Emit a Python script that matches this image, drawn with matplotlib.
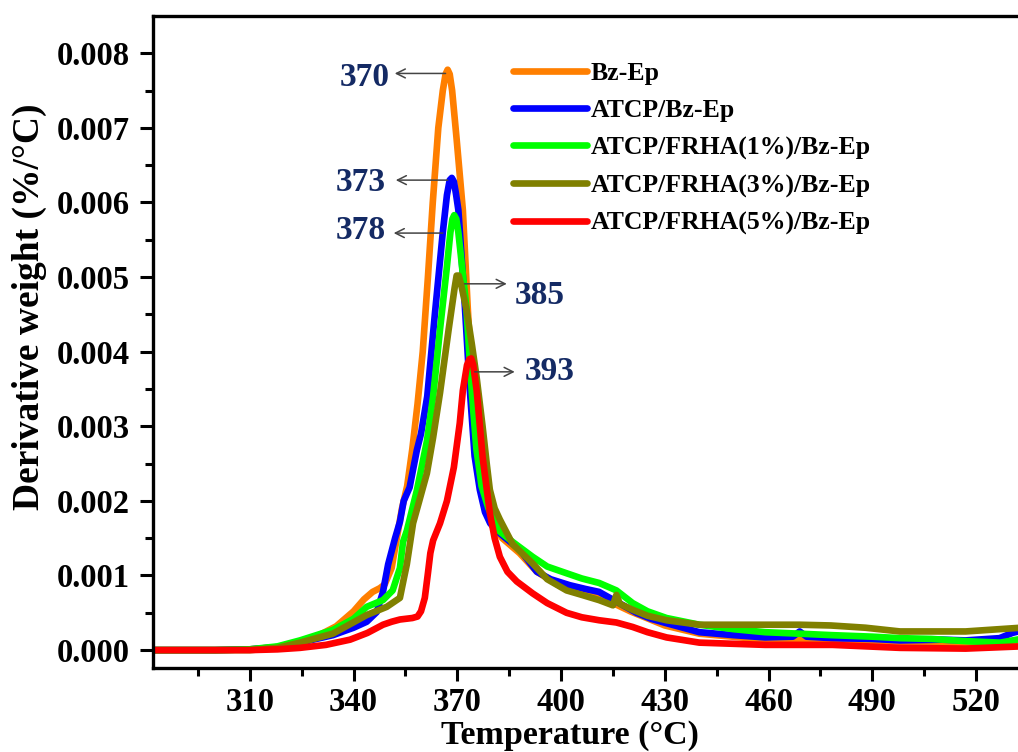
import numpy as np
import matplotlib
matplotlib.use("Agg")
import matplotlib.pyplot as plt
from matplotlib.ticker import FixedLocator, FormatStrFormatter

plt.rcParams['font.family'] = ['Liberation Serif', 'DejaVu Serif']
plt.rcParams['font.weight'] = 'bold'

labels = ["Bz-Ep", "ATCP/Bz-Ep", "ATCP/FRHA(1%)/Bz-Ep",
          "ATCP/FRHA(3%)/Bz-Ep", "ATCP/FRHA(5%)/Bz-Ep"]
colors = ["#ff7f00", "#0000ff", "#00ff00", "#808000", "#ff0000"]

# Temperatures (°C) and derivative weight (units of 1e-3 %/°C)
t_bz = [282, 300, 310, 318, 325, 330, 335, 340, 343, 345.5, 347.6, 349, 351, 352.5, 354,
        355.5, 357, 358.5, 360, 361.5, 362.9, 364.5, 365.8, 366.6, 367.2, 367.8, 368.5,
        369.8, 371.6, 373, 374.5, 376, 378, 380, 383, 388, 393, 400, 405, 411, 420, 430,
        440, 459, 469, 478, 498, 517, 533]
d_bz = [0, 0, 0.01, 0.04, 0.12, 0.2, 0.32, 0.52, 0.68, 0.78, 0.83, 0.88, 1.1, 1.5, 1.9,
        2.2, 2.7, 3.3, 4.0, 5.0, 6.0, 7.0, 7.5, 7.72, 7.78, 7.72, 7.5,
        6.85, 5.9, 4.6, 3.4, 2.5, 1.95, 1.7, 1.5, 1.3, 1.05, 0.85, 0.78, 0.72, 0.52, 0.33,
        0.22, 0.14, 0.15, 0.12, 0.1, 0.08, 0.1]

t_atcp = [282, 300, 310, 318, 324.5, 334, 340, 343.8, 346.7, 348.5, 350, 352, 353.4, 354.5,
          356.2, 358.3, 359.5, 361.3, 363.5, 365.8, 367.0, 367.8, 368.4, 369.0, 369.6,
          370.3, 372, 373.6, 375, 376.5, 378, 379.5, 381.4, 384, 388, 393, 397, 402.5, 407,
          411, 416, 421.8, 426, 430.5, 440, 450, 459, 467, 469, 471, 478.5, 490, 498, 510,
          517, 526.8, 530.5, 533]
d_atcp = [0, 0, 0.01, 0.04, 0.1, 0.2, 0.3, 0.38, 0.51, 0.78, 1.15, 1.5, 1.72, 2.0,
          2.18, 2.68, 2.9, 3.4, 4.5, 5.6, 6.1, 6.3, 6.33, 6.28, 6.12,
          5.9, 4.75, 3.5, 2.6, 2.15, 1.85, 1.7, 1.6, 1.5, 1.35, 1.05, 0.95, 0.87, 0.82,
          0.78, 0.65, 0.5, 0.42, 0.36, 0.24, 0.2, 0.17, 0.18, 0.25, 0.18, 0.16, 0.15, 0.13,
          0.14, 0.13, 0.16, 0.23, 0.26]

t_f1 = [282, 300, 310, 318, 324.5, 334, 340, 343.8, 348.5, 351.3, 353.4, 354.3, 355.4,
        358.3, 361.2, 363, 365, 366.9, 368.0, 368.6, 369.1, 369.7, 370.3, 371, 372.6,
        374.2, 375.5, 377, 379, 382, 386, 391.8, 396, 401.6, 406, 411, 416, 420.7, 425,
        430.5, 440, 450, 459, 469, 478.5, 490, 498, 507, 517, 527, 533]
d_f1 = [0, 0, 0.01, 0.05, 0.13, 0.27, 0.42, 0.58, 0.67, 0.8, 1.1, 1.45, 1.6,
        2.14, 2.8, 3.4, 4.3, 5.1, 5.6, 5.78, 5.83, 5.78, 5.6, 5.3, 4.6,
        3.45, 2.7, 2.2, 1.9, 1.6, 1.45, 1.25, 1.12, 1.03, 0.96, 0.9, 0.8, 0.63, 0.52,
        0.43, 0.34, 0.28, 0.24, 0.22, 0.2, 0.18, 0.16, 0.15, 0.12, 0.1, 0.15]

t_f3 = [282, 300, 310, 318, 324.5, 334, 343.8, 349.6, 353.4, 354.5, 355.4, 357.2, 359,
        361.2, 363, 365, 367.5, 369.2, 369.8, 370.4, 371.2, 372.7, 374.2, 375.6, 377.3,
        378.5, 379.4, 380.8, 382.3, 386, 391.8, 396, 401.6, 406, 411, 415, 416, 417,
        420.7, 425, 430.5, 440, 450, 459, 469, 478, 488, 498, 517, 533]
d_f3 = [0, 0, 0, 0.03, 0.1, 0.22, 0.47, 0.58, 0.7, 0.95, 1.15, 1.7, 2.0,
        2.37, 2.85, 3.45, 4.3, 4.85, 5.02, 5.02, 4.88, 4.55, 4.1, 3.65, 3.0,
        2.5, 2.15, 1.9, 1.75, 1.42, 1.16, 0.95, 0.8, 0.74, 0.67, 0.6, 0.74, 0.62,
        0.54, 0.46, 0.4, 0.34, 0.34, 0.34, 0.34, 0.33, 0.3, 0.25, 0.25, 0.3]

t_f5 = [282, 300, 310, 318, 324.5, 332, 339, 344, 348.5, 351, 353.4, 357, 358.5, 359.5,
        360.6, 361.5, 362.2, 363, 365, 367, 369, 370.7, 371.6, 372.8, 373.5, 374, 374.6,
        375.6, 377.3, 379.4, 380.8, 382.3, 384.5, 387.2, 391.8, 396, 401.6, 406, 411, 416,
        420.7, 425, 430.5, 440, 459, 478.5, 498, 517, 533]
d_f5 = [0, 0, 0, 0.01, 0.03, 0.07, 0.14, 0.23, 0.34, 0.38, 0.41, 0.43, 0.45, 0.52,
        0.7, 1.03, 1.3, 1.47, 1.7, 2.0, 2.45, 3.04, 3.48, 3.82, 3.9, 3.91, 3.82,
        3.48, 2.59, 1.84, 1.5, 1.25, 1.05, 0.92, 0.76, 0.63, 0.5, 0.44, 0.4, 0.37,
        0.31, 0.24, 0.17, 0.1, 0.07, 0.07, 0.03, 0.02, 0.05]

series_t = [t_bz, t_atcp, t_f1, t_f3, t_f5]
series_d = [d_bz, d_atcp, d_f1, d_f3, d_f5]

# peak annotations: text, arrow tail (x, y), arrow head x, text position
peak_texts = ["370", "373", "378", "385", "393"]
arrow_tail = [(366.6, 0.00773), (367.2, 0.00630), (365.8, 0.00559), (372.1, 0.00491), (375.0, 0.00373)]
arrow_head_x = [351.9, 352.2, 351.6, 384.3, 386.6]
text_pos = [(343.2, 0.00768), (342.1, 0.00627), (342.1, 0.00563), (393.8, 0.00476), (396.7, 0.00373)]

xmajor = [310, 340, 370, 400, 430, 460, 490, 520]
xminor = [295, 325, 355, 385, 415, 445, 475, 505, 535]
ymajor = [0.000, 0.001, 0.002, 0.003, 0.004, 0.005, 0.006, 0.007, 0.008]
yminor = [0.0005, 0.0015, 0.0025, 0.0035, 0.0045, 0.0055, 0.0065, 0.0075]

W, H = 1018, 752
fig = plt.figure(figsize=(W / 100, H / 100), dpi=100)
ax = fig.add_axes([153 / W, 84 / H, (1021 - 153) / W, 652 / H])

for t, d, c, lab in zip(series_t, series_d, colors, labels):
    ax.plot(t, np.array(d) * 1e-3, color=c, lw=4.8, label=lab,
            solid_capstyle='round', solid_joinstyle='round')

ax.set_xlim(282, 533)
ax.set_ylim(-0.00024, 0.0085)

for s in ['left', 'bottom', 'top']:
    ax.spines[s].set_linewidth(2.4)
ax.spines['right'].set_visible(False)

ax.xaxis.set_major_locator(FixedLocator(xmajor))
ax.xaxis.set_minor_locator(FixedLocator(xminor))
ax.yaxis.set_major_locator(FixedLocator(ymajor))
ax.yaxis.set_minor_locator(FixedLocator(yminor))
ax.yaxis.set_major_formatter(FormatStrFormatter('%.3f'))
ax.tick_params(which='major', direction='out', length=9.5, width=2.2, labelsize=23.5, pad=7)
ax.tick_params(axis='x', which='major', pad=4)
ax.tick_params(which='minor', direction='out', length=5.5, width=2.2)
ax.tick_params(top=False, right=False, which='both')
for lbl in ax.get_xticklabels() + ax.get_yticklabels():
    lbl.set_fontweight('bold')

fig.text(570 / W, 1 - 744 / H, "Temperature (°C)", ha='center', va='baseline',
         fontsize=24.5, fontweight='bold')
fig.text(29 / W, 1 - 307 / H, "Derivative weight (%/°C)", ha='center', va='center',
         rotation=90, fontsize=27, fontweight='bold')

navy = '#142a64'
for txt, (tx, ty), hx, (px, py) in zip(peak_texts, arrow_tail, arrow_head_x, text_pos):
    ax.annotate("", xy=(hx, ty), xytext=(tx, ty),
                arrowprops=dict(arrowstyle='->', color='#444444', lw=1.1,
                                shrinkA=0, shrinkB=0, mutation_scale=16))
    ax.text(px, py, txt, ha='center', va='center', fontsize=24,
            fontweight='bold', color=navy)

leg = ax.legend(loc='upper left', bbox_to_anchor=(0.4147, 0.930), frameon=False,
                prop={'family': 'Liberation Serif', 'weight': 'bold', 'size': 18.5},
                handlelength=2.9, handletextpad=0.12, labelspacing=0.56,
                borderpad=0, borderaxespad=0)

fig.savefig("out.png", dpi=100)
